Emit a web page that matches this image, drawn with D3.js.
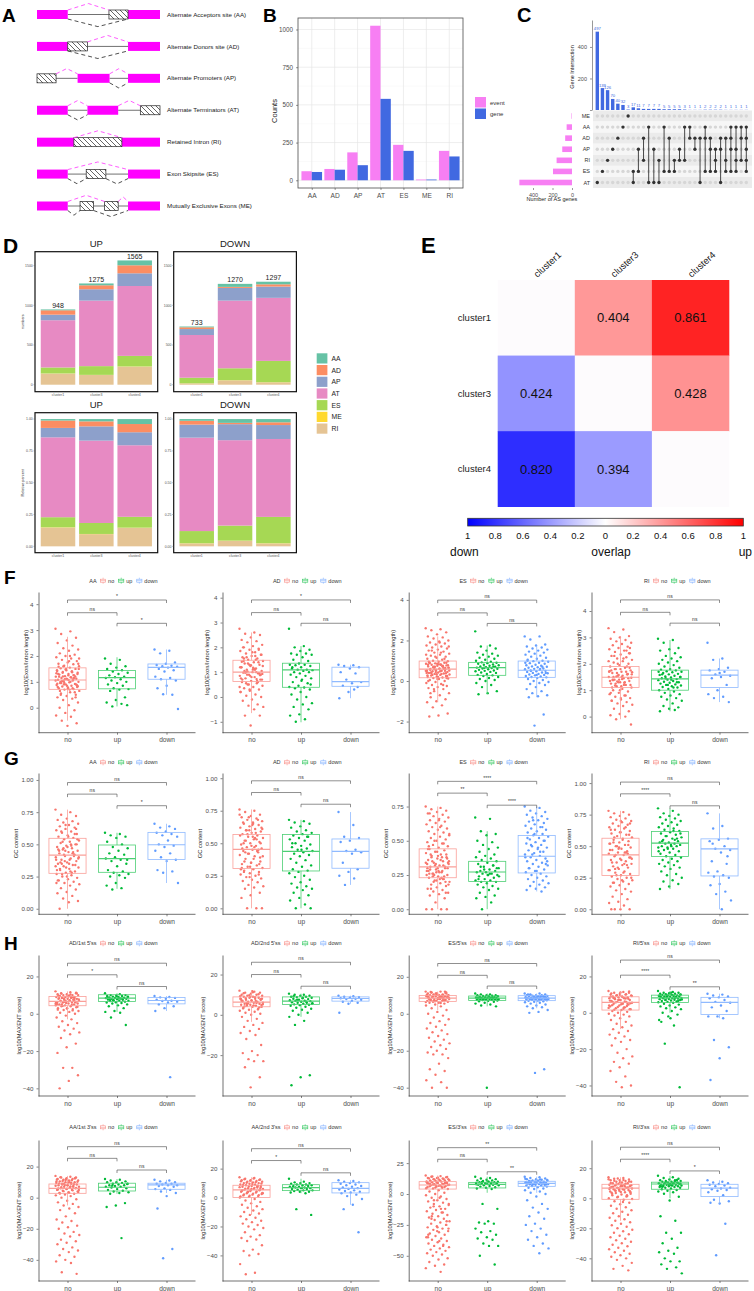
<!DOCTYPE html>
<html>
<head>
<meta charset="utf-8">
<script src="https://cdn.jsdelivr.net/npm/d3@7/dist/d3.min.js"></script>
<style>
  body { margin: 0; background: #fff; }
  svg { display: block; font-family: "Liberation Sans", Arial, Helvetica, sans-serif; }
</style>
</head>
<body>
<div id="fig"></div>
<script>
// ---------- data ----------
// A: splicing schematics (positions in 0-100 gene units)
const asLabels = ['Alternate Acceptors site (AA)', 'Alternate Donors site (AD)', 'Alternate Promoters (AP)',
  'Alternate Terminators (AT)', 'Retained Intron (RI)', 'Exon Skipsite (ES)', 'Mutually Exclusive Exons (ME)'];
const asExons = [[[0, 25], [74, 100]], [[0, 25], [74, 100]], [[33, 59], [74, 100]], [[0, 25], [41, 66]],
  [[0, 30], [69, 100]], [[0, 25], [74, 100]], [[0, 25], [74, 100]]];
const asAltParts = [[[58.5, 74]], [[25, 41]], [[0, 15.5]], [[84, 100]], [[30, 69]], [[40, 56]], [[35, 46], [55, 66]]];
const asIntrons = [[[25, 58.5]], [[41, 74]], [[15.5, 33], [59, 74]], [[25, 41], [66, 84]], [],
  [[25, 40], [56, 74]], [[25, 35], [46, 55], [66, 74]]];
const asUpperJoins = [[[25, 58.5]], [[41, 74]], [[15.5, 33], [59, 74]], [[25, 41], [66, 84]], [[30, 69]],
  [[25, 74]], [[25, 55], [66, 74]]];
const asLowerJoins = [[[25, 74]], [[25, 74]], [[59, 74]], [[25, 41]], [], [[25, 40], [56, 74]], [[25, 35], [46, 74]]];

// B: counts per AS type
const asTypes = ['AA', 'AD', 'AP', 'AT', 'ES', 'ME', 'RI'];
const eventCounts = [60, 75, 185, 1025, 235, 5, 195];
const geneCounts = [55, 70, 100, 540, 195, 5, 158];
const countTicks = [0, 250, 500, 750, 1000];

// C: upset intersections
const upsetSets = ['ME', 'AA', 'AD', 'AP', 'RI', 'ES', 'AT'];
const intersectionSets = [['AT'], ['ES'], ['RI'], ['AP'], ['AD'], ['AA'], ['ME'], ['ES', 'AT'], ['AP', 'ES'],
  ['AD', 'RI'], ['AA', 'AT'], ['AP', 'AT'], ['RI', 'AT'], ['AA', 'ES'], ['AD', 'ES'], ['RI', 'ES'], ['AP', 'RI'],
  ['AA', 'RI'], ['AA', 'AD'], ['AD', 'AP'], ['AD', 'AT'], ['AA', 'AD', 'ES'], ['AD', 'AP', 'ES'], ['AP', 'RI', 'ES'],
  ['AD', 'AP', 'AT'], ['AD', 'RI', 'ES'], ['AA', 'AD', 'AP', 'ES'], ['AA', 'AP', 'RI', 'ES'], ['AA', 'AD', 'RI'],
  ['AA', 'AD', 'AP', 'RI', 'ES']];
const intersectionCounts = [497, 139, 126, 70, 40, 32, 3, 17, 11, 7, 7, 7, 7, 5, 5, 5, 5, 3, 1, 1, 1, 2, 2, 2, 2, 1, 1, 1, 1, 1];

// D: AS events per cluster, values in asTypes order
const clusters = ['cluster1', 'cluster3', 'cluster4'];
const upCounts = [[11, 55, 70, 595, 75, 2, 140], [23, 50, 143, 825, 110, 2, 122], [61, 101, 160, 880, 133, 3, 227]];
const downCounts = [[10, 22, 75, 538, 70, 1, 17], [38, 13, 160, 852, 150, 2, 55], [33, 28, 142, 794, 268, 2, 30]];
const stackOrder = ['RI', 'ME', 'ES', 'AT', 'AP', 'AD', 'AA'];
const asColors = ['#66C2A5', '#FC8D62', '#8DA0CB', '#E78AC3', '#A6D854', '#FFD92F', '#E5C494'];

// E: overlap matrix (positive = up, negative = down)
const overlapMatrix = [[0, 0.404, 0.861], [-0.424, 0, 0.428], [-0.820, -0.394, 0]];
const overlapTicks = [-1, -0.8, -0.6, -0.4, -0.2, 0, 0.2, 0.4, 0.6, 0.8, 1];

// F-H: box plots; stats = [lower whisker, q1, median, q3, upper whisker] for no / up / down
const groups = ['no', 'up', 'down'];
const groupColors = ['#F8766D', '#00BA38', '#619CFF'];

const lengthTitles = ['AA', 'AD', 'ES', 'RI'];
const lengthStats = [
  [[-0.5, 0.71, 1.07, 1.54, 2.74], [0.05, 0.73, 1.16, 1.44, 1.95], [0.5, 1.1, 1.56, 1.69, 2.25]],
  [[-0.65, 0.62, 1.0, 1.48, 2.6], [-1.02, 0.39, 1.09, 1.36, 2.05], [-0.05, 0.43, 0.62, 1.2, 1.3]],
  [[-1.05, 0.16, 0.59, 0.985, 2.2], [-0.65, 0.28, 0.66, 0.92, 1.75], [-0.8, 0.18, 0.53, 0.985, 1.75]],
  [[-0.1, 1.1, 1.49, 1.9, 3.05], [0.2, 1.0, 1.43, 1.76, 2.9], [0.55, 1.1, 1.57, 1.76, 2.2]]
];
const lengthPoints = [
  ['3.05 2.95 2.85 2.7 2.6 2.5 2.4 2.3 2.25 2.2 2.1 2.05 2.0 1.95 1.9 1.85 1.8 1.75 1.7 1.68 1.62 1.6 1.55 1.52 1.5 1.45 1.42 1.4 1.38 1.35 1.3 1.28 1.25 1.22 1.2 1.18 1.15 1.12 1.1 1.08 1.05 1.02 1.0 0.98 0.95 0.92 0.9 0.88 0.85 0.82 0.8 0.78 0.75 0.72 0.7 0.65 0.6 0.55 0.5 0.45 0.4 0.35 0.3 0.2 0.1 0.0 -0.1 -0.2 -0.3 -0.35 -0.5 -0.6 -0.7 1.3 1.1 0.9 1.5 0.7 1.0 1.2 1.5 1.45 1.4 1.35 1.3 1.25 1.2 1.15 1.1 1.05 1.0 0.95 0.9 0.85 0.8 0.75 1.6 1.7 1.8 0.65 0.6 1.48 1.33 1.17 1.03 0.87 0.73 1.58 1.26 0.96 1.9 2.0 0.5 0.4 1.12 0.93 1.37 1.21 0.83 1.07',
   '1.9 1.85 1.7 1.6 1.55 1.5 1.45 1.4 1.35 1.3 1.25 1.2 1.18 1.15 1.1 1.05 1.0 0.95 0.9 0.85 0.75 0.72 0.7 0.65 0.4 0.3 0.2 0.15 0.05 0.1',
   '2.25 2.2 2.1 1.75 1.7 1.65 1.62 1.6 1.58 1.55 1.5 1.45 1.4 1.2 1.15 1.1 1.05 0.85 0.75 0.5 0.52 -0.05'],
  ['2.75 2.6 2.55 2.5 2.4 2.3 2.25 2.2 2.1 2.05 2.0 1.95 1.9 1.85 1.8 1.75 1.7 1.65 1.6 1.55 1.5 1.45 1.4 1.35 1.3 1.25 1.2 1.15 1.1 1.05 1.0 0.98 0.95 0.9 0.85 0.8 0.75 0.7 0.65 0.6 0.55 0.5 0.45 0.4 0.35 0.3 0.25 0.2 0.1 0.05 0.0 -0.1 -0.15 -0.3 -0.35 -0.4 -0.5 -0.75 -0.75 -1.15 1.2 1.0 0.9 0.7 1.1 1.45 1.4 1.3 1.2 1.1 1.0 0.9 0.8 0.7 0.65 1.35 1.25 1.15 1.05 0.95 0.85 0.75 1.5 1.6 1.7 1.8 2.0 0.6 0.5 0.4 1.12 0.98 0.88 1.28 1.42 0.72 1.03 0.93 1.18 1.55 1.9 0.3 0.2 1.65 0.55',
   '2.75 2.05 2.0 1.9 1.85 1.75 1.75 1.7 1.7 1.6 1.5 1.45 1.35 1.3 1.3 1.28 1.25 1.2 1.15 1.1 1.1 1.08 1.05 1.0 1.0 0.95 0.9 0.85 0.8 0.75 0.7 0.6 0.55 0.45 0.4 0.38 0.35 0.3 0.2 0.1 0.0 -0.1 -0.25 -0.3 -0.4 -0.5 -0.7 -0.75 -0.9 -1.0 0.5 0.65 1.2',
   '1.3 1.28 1.25 1.2 1.15 1.0 0.95 0.7 0.6 0.55 0.45 0.4 0.2 -0.05 0.3'],
  ['2.6 2.55 2.5 2.4 2.3 2.2 2.15 2.1 2.0 1.95 1.9 1.85 1.8 1.75 1.7 1.65 1.6 1.55 1.5 1.45 1.4 1.35 1.3 1.25 1.2 1.15 1.1 1.05 1.0 0.98 0.95 0.92 0.9 0.87 0.85 0.82 0.8 0.77 0.75 0.72 0.7 0.67 0.65 0.62 0.6 0.58 0.55 0.52 0.5 0.48 0.45 0.42 0.4 0.37 0.35 0.32 0.3 0.27 0.25 0.22 0.2 0.17 0.15 0.12 0.1 0.05 0.0 -0.05 -0.1 -0.15 -0.2 -0.25 -0.3 -0.35 -0.4 -0.5 -0.6 -0.7 -0.8 -0.9 -1.0 -1.05 -1.2 -1.3 -1.6 -1.7 -1.75 0.6 0.7 0.5 0.8 0.4 0.9 0.85 0.8 0.75 0.7 0.65 0.6 0.55 0.5 0.45 0.4 0.35 0.3 0.25 0.2 0.95 0.62 0.58 0.52 0.48 0.42 0.38 0.33 0.28 0.73 0.68 0.78 0.83 0.88 1.1 1.2 1.3 1.4 1.5 0.15 0.1 0.0 -0.2 -0.4 1.7 1.9 -0.6 0.64 0.54 0.44',
   '2.45 1.75 1.7 1.6 1.5 1.4 1.35 1.3 1.25 1.2 1.15 1.1 1.05 1.0 0.95 0.92 0.9 0.88 0.85 0.82 0.8 0.78 0.75 0.72 0.7 0.68 0.66 0.64 0.62 0.6 0.58 0.55 0.52 0.5 0.48 0.45 0.42 0.4 0.35 0.3 0.28 0.25 0.2 0.15 0.1 0.05 0.0 -0.1 -0.2 -0.3 -0.5 -0.6 -0.65 0.7 0.65',
   '2.2 2.2 2.05 1.8 1.75 1.7 1.65 1.6 1.55 1.5 1.45 1.4 1.35 1.3 1.25 1.2 1.15 1.1 1.05 1.0 0.98 0.95 0.9 0.88 0.85 0.8 0.78 0.75 0.72 0.7 0.68 0.65 0.62 0.6 0.58 0.55 0.52 0.5 0.48 0.45 0.42 0.4 0.38 0.35 0.32 0.3 0.28 0.25 0.22 0.2 0.18 0.15 0.1 0.05 0.0 -0.05 -0.1 -0.15 -0.2 -0.3 -0.4 -0.5 -0.6 -0.7 -0.75 -0.8 -1.65 -2.2 0.9 0.6 0.5 0.4 0.3 1.0 0.7'],
  ['3.35 3.3 3.2 3.05 3.0 2.95 2.9 2.85 2.8 2.75 2.7 2.65 2.6 2.55 2.5 2.45 2.4 2.35 2.3 2.25 2.2 2.15 2.1 2.05 2.0 1.95 1.9 1.85 1.8 1.75 1.7 1.65 1.6 1.55 1.5 1.45 1.4 1.35 1.3 1.25 1.2 1.15 1.1 1.05 1.0 0.95 0.9 0.85 0.8 0.75 0.7 0.65 0.6 0.55 0.5 0.45 0.4 0.3 0.2 0.1 0.05 0.0 -0.1 -0.3 1.5 1.4 1.6 1.3 1.7 1.2 1.8 1.85 1.8 1.75 1.7 1.65 1.6 1.55 1.5 1.45 1.4 1.35 1.3 1.25 1.2 1.15 1.1 1.9 2.0 2.1 2.2 2.3 2.4 1.0 0.9 0.8 1.52 1.47 1.42 1.38 1.62 1.58 1.72 1.28 1.18 2.6 0.7 0.6 2.5 1.33 1.68',
   '2.95 2.9 2.8 2.6 2.55 2.5 2.4 2.3 2.25 2.2 2.15 2.1 2.05 2.0 1.95 1.9 1.85 1.8 1.78 1.75 1.72 1.7 1.68 1.65 1.62 1.6 1.58 1.55 1.52 1.5 1.48 1.45 1.42 1.4 1.38 1.35 1.32 1.3 1.28 1.25 1.22 1.2 1.18 1.15 1.12 1.1 1.05 1.0 0.95 0.9 0.85 0.8 0.75 0.7 0.65 0.6 0.5 0.4 0.35 0.3 0.2 0.25 1.45 1.5 1.4 1.6 1.3 1.2 1.7 1.1',
   '2.8 2.2 2.15 1.85 1.8 1.75 1.7 1.6 1.55 1.5 1.45 1.2 1.0 0.85 0.75 0.7 0.55 1.65']
];
const lengthSig = [['*', 'ns', '*'], ['*', 'ns', 'ns'], ['ns', 'ns', 'ns'], ['ns', 'ns', 'ns']];
const lengthSigAt = [[4.16, 3.67, 3.26], [3.91, 3.4, 2.97], [3.99, 3.36, 2.84], [4.42, 3.95, 3.54]];

const gcTitles = ['AA', 'AD', 'ES', 'RI'];
const gcStats = [
  [[0.0, 0.275, 0.417, 0.547, 0.77], [0.155, 0.283, 0.39, 0.495, 0.59], [0.2, 0.383, 0.497, 0.593, 0.66]],
  [[0.0, 0.306, 0.453, 0.567, 0.76], [0.0, 0.287, 0.437, 0.567, 0.68], [0.18, 0.308, 0.437, 0.533, 0.74]],
  [[0.0, 0.23, 0.309, 0.441, 0.75], [0.0, 0.203, 0.272, 0.35, 0.57], [0.13, 0.265, 0.387, 0.539, 0.75]],
  [[0.0, 0.267, 0.431, 0.563, 0.78], [0.16, 0.418, 0.524, 0.616, 0.8], [0.0, 0.264, 0.479, 0.558, 0.76]]
];
const gcPoints = [
  ['0.77 0.75 0.73 0.72 0.7 0.69 0.68 0.67 0.66 0.65 0.64 0.63 0.62 0.61 0.6 0.59 0.58 0.57 0.56 0.55 0.54 0.53 0.52 0.51 0.5 0.49 0.48 0.47 0.46 0.45 0.44 0.43 0.42 0.41 0.4 0.39 0.38 0.37 0.36 0.35 0.34 0.33 0.32 0.31 0.3 0.29 0.28 0.27 0.26 0.25 0.24 0.23 0.22 0.21 0.2 0.19 0.18 0.16 0.15 0.13 0.12 0.1 0.08 0.06 0.05 0.0 0.42 0.45 0.38 0.5 0.35 0.5 0.48 0.46 0.44 0.42 0.4 0.38 0.36 0.34 0.32 0.3 0.28 0.52 0.54 0.56 0.45 0.41 0.37 0.33 0.29 0.6 0.62 0.25 0.22 0.43 0.47 0.39 0.35 0.31 0.58 0.65 0.2 0.49 0.27',
   '0.59 0.58 0.57 0.56 0.55 0.52 0.5 0.48 0.47 0.45 0.43 0.42 0.4 0.39 0.38 0.37 0.35 0.33 0.3 0.29 0.28 0.27 0.26 0.25 0.24 0.2 0.18 0.16 0.15 0.38',
   '0.66 0.64 0.63 0.62 0.6 0.59 0.58 0.57 0.56 0.53 0.5 0.49 0.48 0.45 0.43 0.4 0.38 0.37 0.3 0.29 0.28 0.2'],
  ['0.76 0.75 0.74 0.72 0.71 0.7 0.69 0.68 0.67 0.66 0.65 0.64 0.63 0.62 0.61 0.6 0.59 0.58 0.57 0.56 0.55 0.54 0.53 0.52 0.51 0.5 0.49 0.48 0.47 0.46 0.45 0.44 0.43 0.42 0.41 0.4 0.38 0.36 0.35 0.34 0.33 0.32 0.31 0.3 0.29 0.28 0.27 0.26 0.25 0.24 0.23 0.22 0.21 0.2 0.18 0.17 0.16 0.15 0.12 0.1 0.08 0.0 0.0 0.0 0.55 0.5 0.45 0.6 0.56 0.54 0.52 0.5 0.48 0.46 0.44 0.42 0.4 0.38 0.36 0.34 0.32 0.3 0.58 0.6 0.62 0.64 0.66 0.68 0.7 0.72 0.47 0.43 0.39 0.35 0.31 0.53 0.57 0.61 0.65 0.28 0.26 0.24',
   '0.68 0.67 0.66 0.65 0.63 0.62 0.6 0.59 0.58 0.57 0.56 0.55 0.54 0.53 0.52 0.5 0.49 0.48 0.47 0.46 0.45 0.44 0.43 0.42 0.41 0.4 0.38 0.37 0.35 0.33 0.32 0.3 0.29 0.28 0.27 0.25 0.24 0.22 0.2 0.19 0.17 0.16 0.15 0.14 0.12 0.1 0.08 0.06 0.03 0.0 0.0 0.45 0.5 0.55',
   '0.74 0.64 0.55 0.54 0.52 0.51 0.45 0.44 0.43 0.42 0.35 0.3 0.28 0.25 0.23 0.18'],
  ['0.75 0.74 0.73 0.72 0.71 0.7 0.69 0.68 0.67 0.66 0.65 0.64 0.63 0.62 0.61 0.6 0.59 0.58 0.57 0.56 0.55 0.54 0.53 0.52 0.51 0.5 0.49 0.48 0.47 0.46 0.45 0.44 0.43 0.42 0.41 0.4 0.39 0.38 0.37 0.36 0.35 0.34 0.33 0.32 0.31 0.3 0.29 0.28 0.27 0.26 0.25 0.24 0.23 0.22 0.21 0.2 0.19 0.18 0.17 0.16 0.15 0.14 0.13 0.12 0.11 0.1 0.08 0.05 0.0 0.0 0.0 0.0 0.3 0.28 0.32 0.25 0.35 0.22 0.4 0.2 0.27 0.33 0.38 0.24 0.3 0.28 0.26 0.24 0.32 0.34 0.36 0.38 0.4 0.42 0.44 0.22 0.2 0.18 0.27 0.29 0.31 0.33 0.25 0.23 0.35 0.37 0.39 0.46 0.48 0.5 0.55 0.6 0.15 0.12 0.21 0.3 0.28 0.26 0.34 0.65 0.7',
   '0.67 0.66 0.57 0.55 0.54 0.5 0.49 0.47 0.45 0.44 0.42 0.4 0.39 0.38 0.37 0.36 0.35 0.34 0.33 0.32 0.31 0.3 0.29 0.28 0.28 0.27 0.27 0.26 0.26 0.25 0.25 0.24 0.23 0.22 0.21 0.21 0.2 0.2 0.19 0.18 0.17 0.16 0.15 0.14 0.12 0.1 0.09 0.08 0.05 0.0 0.3 0.25 0.22 0.32 0.29 0.24 0.26 0.31',
   '0.75 0.74 0.72 0.71 0.7 0.69 0.68 0.67 0.66 0.65 0.64 0.63 0.62 0.61 0.6 0.59 0.58 0.57 0.56 0.55 0.54 0.53 0.52 0.51 0.5 0.49 0.48 0.47 0.46 0.45 0.44 0.43 0.42 0.41 0.4 0.39 0.38 0.37 0.36 0.35 0.34 0.33 0.32 0.31 0.3 0.29 0.28 0.27 0.26 0.25 0.24 0.23 0.22 0.21 0.2 0.19 0.18 0.17 0.16 0.15 0.14 0.13 0.4 0.35 0.45 0.3 0.5 0.55 0.38 0.42 0.47 0.33 0.28 0.52 0.6 0.65'],
  ['0.78 0.77 0.76 0.75 0.74 0.73 0.72 0.71 0.7 0.69 0.68 0.67 0.66 0.65 0.64 0.63 0.62 0.61 0.6 0.59 0.58 0.57 0.56 0.55 0.54 0.53 0.52 0.51 0.5 0.49 0.48 0.47 0.46 0.45 0.44 0.43 0.42 0.41 0.4 0.39 0.38 0.37 0.36 0.35 0.34 0.33 0.32 0.31 0.3 0.29 0.28 0.27 0.26 0.25 0.24 0.23 0.22 0.21 0.2 0.19 0.18 0.16 0.15 0.14 0.12 0.1 0.08 0.06 0.05 0.03 0.0 0.0 0.0 0.0 0.45 0.5 0.4 0.55 0.53 0.51 0.49 0.47 0.45 0.43 0.41 0.39 0.37 0.35 0.33 0.31 0.29 0.57 0.59 0.61 0.63 0.65 0.27 0.25 0.23 0.21 0.44 0.48 0.52 0.36 0.32 0.68 0.7',
   '0.8 0.78 0.76 0.75 0.74 0.73 0.72 0.71 0.7 0.69 0.68 0.67 0.66 0.65 0.64 0.63 0.62 0.61 0.6 0.59 0.58 0.57 0.56 0.55 0.54 0.53 0.53 0.52 0.52 0.51 0.51 0.5 0.5 0.49 0.49 0.48 0.47 0.46 0.45 0.44 0.43 0.42 0.41 0.4 0.39 0.38 0.37 0.36 0.35 0.34 0.33 0.32 0.3 0.28 0.27 0.25 0.23 0.22 0.2 0.18 0.16 0.55 0.58 0.6 0.5 0.54 0.56 0.48 0.46 0.62',
   '0.76 0.66 0.64 0.56 0.55 0.54 0.5 0.48 0.47 0.45 0.38 0.36 0.3 0.29 0.27 0.26 0.25 0.2 0.19 0.14 0.12 0.07 0.0 0.52 0.42']
];
const gcSig = [['ns', 'ns', '*'], ['ns', 'ns', 'ns'], ['****', '**', '****'], ['ns', '****', 'ns']];
const gcSigAt = [[0.98, 0.89, 0.8], [0.98, 0.89, 0.8], [0.934, 0.848, 0.76], [1.008, 0.915, 0.82]];

const maxentTitles = ["AD/1st 5'ss", "AD/2nd 5'ss", "ES/5'ss", "RI/5'ss", "AA/1st 3'ss", "AA/2nd 3'ss", "ES/3'ss", "RI/3'ss"];
const maxentStats = [
  [[-3, 4.3, 6.6, 9.3, 12], [1, 6.6, 8.4, 10.2, 11], [1.5, 5.3, 7.1, 8.7, 9.5]],
  [[-3.5, 4.0, 6.3, 8.9, 12], [-1, 5.1, 6.8, 8.9, 10.5], [5.5, 6.8, 8.1, 8.9, 9.5]],
  [[2, 6.7, 8.5, 9.9, 12], [4, 7.2, 8.5, 9.6, 11], [3, 7.1, 8.5, 9.8, 11]],
  [[-9, 1.5, 5.7, 8.8, 12], [0, 5.7, 8.2, 9.7, 12], [-3, -0.9, 5.7, 8.5, 10.5]],
  [[-5, 2.8, 6.0, 8.8, 14], [2.5, 4.3, 6.7, 9.3, 12], [3, 5.4, 8.2, 9.3, 11.5]],
  [[-12, 0, 5.3, 8.5, 14], [3, 4.8, 6.8, 8.9, 13], [-5, 3.2, 6.4, 10.3, 12]],
  [[-5, 4.0, 7.3, 10.0, 15], [1, 4.9, 7.8, 9.4, 14], [1, 6.2, 8.6, 10.3, 14]],
  [[-15, -0.7, 6.7, 9.3, 14], [0, 6.0, 9.5, 10.7, 15], [-3.5, 1.1, 6.7, 9.3, 12]]
];
const maxentPoints = [
  ['12 11.5 11 11 10.5 10.5 10 10 10 9.5 9.5 9 9 9 8.5 8.5 8 8 8 7.5 7.5 7 7 7 6.5 6.5 6 6 6 5.5 5.5 5 5 4.5 4.5 4 4 3.5 3 3 2.5 2 1.5 1 0.5 0 -1 -2 -3 -4 -5 -6 -7 -8 -9 -10 -11 -13 -16 -18 -21 -29 -29 -33 -36 -40 8 7 6 9 5 11 10 9.7 8.8 8.2 7.7 7.2 6.7 6.2 5.7 5.2 4.7 4.2 3.7 9.2 8.4 7.4 6.4 5.4 10.3 10.8 11.3 2.8 2.2 1.8',
   '11 10.5 10 10 9.8 9.5 9.5 9.2 9 9 8.8 8.6 8.5 8.4 8.2 8 8 7.8 7.6 7.5 7.2 7 7 6.8 6.5 6.2 6 5.8 5.5 5 4.5 4 3 1.5 1 0.5 -2 -6 9.3 8.7 8.1 7.3 9.1 8.3 7.7',
   '9.5 9 8.8 8.5 8 7.5 7 6.8 6.5 6 5 4 3 1.5 -34'],
  ['12 11.5 11 11 10.5 10 10 9.5 9.5 9 9 8.5 8.5 8 8 7.5 7.5 7 7 6.5 6.5 6 6 5.5 5.5 5 5 4.5 4.5 4 4 3.5 3 2.5 2 1.5 1 0.5 0 -1 -2 -3 -4 -5 -6 -7 -8 -9 -10 -12 -15 -18 -19 -20 -22 -23 -23 -26 -31 -36 7 6 5 8 11.2 10.7 10.2 9.7 9.2 8.7 8.2 7.7 7.2 6.7 6.2 5.7 5.2 4.7 4.2 3.7 8.9 7.9 6.9 5.9 4.9 11.7 3.2 2.7',
   '10.5 10 10 9.5 9.5 9 9 8.8 8.5 8.2 8 7.8 7.5 7.2 7 7 6.8 6.5 6.2 6 6 5.8 5.5 5.2 5 4.8 4.5 4 3.5 3 2.5 2 1 0 -1 -3 -5 -30 -31 -35 6.5 7.5 5.5 8.5 9.2',
   '9.5 9.2 9 8.8 8.5 8.2 8 7.8 7.5 7 6.5 6 5.5 1'],
  ['12 12 11.5 11.5 11 11 10.5 10.5 10 10 10 9.5 9.5 9.5 9 9 9 8.5 8.5 8.5 8 8 8 7.5 7.5 7 7 7 6.5 6.5 6 6 5.5 5 4.5 4 3 2 1 0 -1 -2 -3 -4 -5 -6 -7 -8 -9 -10 -11 -12 -13 -14 -15 -16 -17 -18 -19 -20 -21 -22 -22 -24 -27 -30 -31 -33 -36 -37 -40 -40 8 9 10 7 8.5 9.5 11.8 11.3 10.8 10.3 9.8 9.3 8.8 8.3 7.8 7.3 6.8 6.3 5.8 11.6 10.9 10.1 9.1 8.1 7.1 9.9 8.7 7.7 12 11 10 9',
   '11 10.5 10.5 10 10 10 9.8 9.6 9.5 9.4 9.2 9 9 8.8 8.7 8.6 8.5 8.4 8.3 8.2 8.1 8 8 7.9 7.8 7.7 7.6 7.5 7.4 7.2 7 6.8 6.5 6 5.5 5 4.5 4 -40 8.5 9 8 7.5 9.3 8.9',
   '11 11 10.5 10.5 10 10 10 9.8 9.6 9.5 9.4 9.2 9 9 8.8 8.7 8.6 8.5 8.4 8.3 8.2 8.1 8 8 7.9 7.8 7.7 7.6 7.5 7.3 7.1 7 6.8 6.5 6.2 6 5.5 5 4.5 4 3.5 3 2 1 0.5 -30 -32 8.5 9.5 8 7.5 9 10.5 9.7 8.9 8.1 7.4 10.2 9.1 8.3'],
  ['12 11.5 11 11 10.5 10 10 9.5 9.5 9 9 8.5 8.5 8 8 7.5 7 7 6.5 6 6 5.5 5 5 4.5 4 3.5 3 2.5 2 1.5 1 0.5 0 -0.5 -1 -1.5 -2 -3 -4 -5 -6 -7 -8 -9 -10 -11 -12 -13 -14 -15 -16 -18 -20 -22 -24 -25 -27 -28 -30 -32 -35 -38 -40 -41 6 5 7 4 3 8 2 11.2 10.7 10.2 9.7 9.2 8.7 8.2 7.7 7.2 6.7 6.2 5.7 5.2 4.7 4.2 3.7 3.2 2.7 2.2 1.7 11.7 9.9 8.9 7.9',
   '12 11.5 11 11 10.8 10.5 10.5 10.2 10 10 9.8 9.6 9.5 9.4 9.2 9 9 8.8 8.6 8.5 8.4 8.2 8 8 7.8 7.6 7.5 7.2 7 7 6.8 6.5 6.2 6 5.8 5.5 5 4.5 4 3.5 3 2.5 2 1 0 -1 -2 -4 -7 -17 -41 -3 -5 8.7 9.3 7.3 9.7 8.3 6.6 10.7 9.1 8.1 7.1 10.1 11.1',
   '10.5 10 9.5 9 8.5 8 7 6 5.5 4 3 1 -2 -2 -3 -15 -19 -25 -37'],
  ['14 13.5 13 13 12.5 12 12 11.5 11 11 10.5 10 10 9.5 9 9 8.5 8 8 7.5 7 7 6.5 6 6 5.5 5 5 4.5 4 3.5 3 2.5 2 1.5 1 0 -1 -2 -3 -4 -5 -6 -7 -8 -10 -12 -14 -15 -16 -18 -19 -20 -22 -23 -24 -25 -27 -28 -29 -30 -32 -33 -34 -35 -37 -38 -40 -41 -42 -48 -49 8 6 7 9 5 10 13.2 12.7 12.2 11.7 11.2 10.7 10.2 9.7 9.2 8.7 8.2 7.7 7.2 6.7 6.2 5.7 5.2 4.7 4.2 3.7 3.2 2.7 12.4 11.4 10.4 9.4 8.4',
   '12 11.5 11 10.5 10 10 9.5 9 9 8.5 8 8 7.5 7 7 6.5 6 5.5 5 4.5 4 3.5 3 2.5 -3.5 -5 -6 -26 7.8 8.8',
   '11.5 11 10.5 10 9.5 9 9 8.5 8 8 7.5 7 6 5.5 5 4 3 1 -7 -33 -39'],
  ['14 13.5 13 12.5 12 12 11.5 11 11 10.5 10 10 9.5 9 9 8.5 8 8 7.5 7 6.5 6 6 5.5 5 4.5 4 3.5 3 2.5 2 1.5 1 0.5 0 -1 -2 -3 -4 -5 -6 -7 -8 -9 -10 -11 -12 -13 -14 -15 -16 -17 -18 -19 -20 -21 -22 -24 -26 -27 -28 -29 -30 -33 -36 -37 -39 -40 -46 -52 -53 7 6 5 8 4 3 13.2 12.7 12.2 11.7 11.2 10.7 10.2 9.7 9.2 8.7 8.2 7.7 7.2 6.7 6.2 5.7 5.2 4.7 4.2 3.7 3.2 2.7 2.2 1.7 1.2 0.7',
   '13 11 10.5 10 10 9.5 9 9 8.5 8.5 8 8 7.5 7.5 7 7 6.5 6.5 6 6 5.5 5 5 4.5 4 4 3.5 3 -8 -12 6.8 7.2',
   '12 11.5 11 10.5 10 9.5 9 8.5 8 7.5 7 6.5 6 5.5 5 4.5 4 3.5 3 2 1 -1 -5 -8 -24'],
  ['15 14.5 14 13.5 13 13 12.5 12 12 11.5 11 11 10.5 10 10 9.5 9 9 8.5 8 8 7.5 7 7 6.5 6 5.5 5 4.5 4 3 2 1 0 -1 -2 -3 -4 -5 -6 -7 -8 -9 -10 -11 -12 -13 -14 -15 -16 -17 -18 -19 -20 -21 -22 -23 -24 -25 -26 -27 -28 -29 -30 -31 -32 -33 -34 -35 -36 -37 -38 -39 -40 -41 -42 -43 -44 -45 -46 -47 -48 -49 -50 -52 -53 -55 -57 -58 -60 -63 -20 -25 -30 -35 -15 -10 -28 -38 8 9 7 10 6 14.2 13.7 13.2 12.7 12.2 11.7 11.2 10.7 10.2 9.7 9.2 8.7 8.2 7.7 7.2 6.7 6.2 5.7 5.2 4.7 -12 -18 -22 -27 -33 -42 -5 -8 -3',
   '14 13 12.5 12 11.5 11 11 10.5 10 10 9.5 9.5 9 9 8.5 8.5 8 8 7.5 7.5 7 7 6.5 6 5.5 5 4.5 4 -8 -12 -22 -23 -24 -24 -28 -30 -31 -33 -35 -36 -37 -40 -42 -42 -50 -57 8.2 7.8 9.2 9.7 8.7 10.2',
   '14 13.5 13 12.5 12 12 11.5 11 11 10.5 10.5 10 10 9.5 9.5 9 9 8.8 8.5 8.5 8.2 8 8 7.8 7.5 7.5 7 7 6.5 6 5.5 5 4.5 4 3 2 1 0 -2 -5 -8 -11 -12 -15 -18 -20 -24 -25 -28 -30 -33 -35 -37 -40 -42 -44 -48 9 8 10 9.3 8.7 7.3 11.3 10.7 9.8 8.9 8.3 12.3 11.8 10.2 7.9'],
  ['14 13.5 13 12.5 12 12 11.5 11 11 10.5 10 10 9.5 9 9 8.5 8 8 7.5 7 7 6.5 6 6 5.5 5 4.5 4 3.5 3 2.5 2 1.5 1 0 -1 -2 -3 -4 -5 -6 -7 -8 -9 -10 -11 -12 -13 -14 -15 -16 -17 -18 -19 -20 -21 -22 -23 -24 -25 -26 -27 -28 -29 -30 -31 -32 -33 -34 -35 -36 -37 -38 -39 -40 -41 -43 -45 -47 -48 6 7 8 5 4 9 3 2 13.2 12.7 12.2 11.7 11.2 10.7 10.2 9.7 9.2 8.7 8.2 7.7 7.2 6.7 6.2 5.7 5.2 4.7 4.2 3.7 1.2 0.7 -0.5 -2.5',
   '15 14 13.5 13 12.5 12 12 11.5 11.5 11 11 10.5 10.5 10 10 10 9.5 9.5 9 9 9 8.5 8.5 8 8 8 7.5 7.5 7 7 6.5 6 5.5 5 4.5 4 3 1 -1.5 -12 -15 -23 -23 -27 -30 -33 -35 -36 -37 -40 -42 -42 -44 -46 -47 -50 9.8 8.8 10.2 9.2 8.2 11.2 10.7 9.7 8.7 7.7 12.2',
   '12 11 10.5 10 9.5 9 8.5 8 7 6.5 6 5.5 5 4 2 -1 -2 -3.5 -3 -17 -38']
];
const maxentSig = [['ns', '*', 'ns'], ['ns', 'ns', 'ns'], ['ns', 'ns', 'ns'], ['ns', '****', '**'],
  ['ns', 'ns', 'ns'], ['ns', '*', 'ns'], ['**', 'ns', '**'], ['ns', '****', '*']];
const maxentSigAt = [[27.1, 20.9, 14.6], [26.1, 20, 14.2], [27.2, 20.8, 15], [29, 20.7, 14.3],
  [32.8, 25.3, 17.8], [33.8, 25.6, 17.1], [37.5, 28.1, 18], [34, 26, 18.2]];

// ---------- layout ----------
const W = 754, H = 1291;
const svg = d3.select('#fig').append('svg').attr('width', W).attr('height', H);
const defs = svg.append('defs');
const axisColor = '#333';
const tickText = '#4d4d4d';

function panelLetter(t, x, y, size) {
    svg.append('text').attr('x', x).attr('y', y)
        .attr('font-size', size + 'px').attr('font-weight', '700').attr('fill', '#000').text(t);
}

// ---------- A ----------
function drawPanelA() {
    panelLetter('A', 2, 22, 19);
    defs.append('pattern').attr('id', 'hatch').attr('patternUnits', 'userSpaceOnUse')
        .attr('width', 5).attr('height', 5)
        .append('path').attr('d', 'M-1,-1 L6,6 M-1,4 L1,6 M4,-1 L6,1')
        .attr('stroke', '#222').attr('stroke-width', 0.7);

    const x = d3.scaleLinear().domain([0, 100]).range([37, 160]);
    const y = d3.scalePoint().domain(asLabels).range([14.5, 206]);
    const half = 4.5;
    const g = svg.append('g');

    const join = (seg, yc, dir, color) => {
        const x1 = x(seg[0]), x2 = x(seg[1]);
        const peak = Math.min(8, 4 + (x2 - x1) * 0.06);
        const yb = yc + dir * half;
        g.append('path')
            .attr('d', `M${x1},${yb} L${(x1 + x2) / 2},${yb + dir * peak} L${x2},${yb}`)
            .attr('fill', 'none').attr('stroke', color).attr('stroke-width', 0.8)
            .attr('stroke-dasharray', '4,3');
    };

    asLabels.forEach((label, i) => {
        const yc = y(label);
        asIntrons[i].forEach(s => {
            g.append('line').attr('x1', x(s[0])).attr('x2', x(s[1])).attr('y1', yc).attr('y2', yc)
                .attr('stroke', '#333').attr('stroke-width', 0.7);
        });
        asExons[i].forEach(s => {
            g.append('rect').attr('x', x(s[0])).attr('y', yc - half).attr('width', x(s[1]) - x(s[0]))
                .attr('height', half * 2).attr('fill', '#ff00ff');
        });
        asAltParts[i].forEach(s => {
            g.append('rect').attr('x', x(s[0])).attr('y', yc - half).attr('width', x(s[1]) - x(s[0]))
                .attr('height', half * 2).attr('fill', '#fff');
            g.append('rect').attr('x', x(s[0])).attr('y', yc - half).attr('width', x(s[1]) - x(s[0]))
                .attr('height', half * 2).attr('fill', 'url(#hatch)').attr('stroke', '#222').attr('stroke-width', 0.7);
        });
        asUpperJoins[i].forEach(s => join(s, yc, -1, '#ff33ff'));
        asLowerJoins[i].forEach(s => join(s, yc, 1, '#222'));
        g.append('text').attr('x', 167).attr('y', yc + 2.1).attr('font-size', '6.2px').attr('fill', '#222').text(label);
    });
}

// ---------- B ----------
function drawPanelB() {
    panelLetter('B', 263, 22, 19);
    const left = 298, right = 463, top = 18, bottom = 188;
    const x = d3.scalePoint().domain(asTypes).range([left, right]).padding(0.6);
    const y = d3.scaleLinear().domain([-51.25, 1076.25]).range([bottom, top]);
    const step = x.step();
    const g = svg.append('g');

    g.append('rect').attr('x', left).attr('y', top).attr('width', right - left).attr('height', bottom - top).attr('fill', '#fff');
    const minor = countTicks.map(v => v + 125).filter(v => y(v) > top);
    minor.forEach(v => g.append('line').attr('x1', left).attr('x2', right).attr('y1', y(v)).attr('y2', y(v))
        .attr('stroke', '#f2f2f2').attr('stroke-width', 0.4));
    countTicks.forEach(v => g.append('line').attr('x1', left).attr('x2', right).attr('y1', y(v)).attr('y2', y(v))
        .attr('stroke', '#e6e6e6').attr('stroke-width', 0.7));
    asTypes.forEach(t => g.append('line').attr('x1', x(t)).attr('x2', x(t)).attr('y1', top).attr('y2', bottom)
        .attr('stroke', '#e6e6e6').attr('stroke-width', 0.7));

    const bw = step * 0.45;
    asTypes.forEach((t, i) => {
        g.append('rect').attr('x', x(t) - bw).attr('width', bw)
            .attr('y', y(eventCounts[i])).attr('height', y(0) - y(eventCounts[i])).attr('fill', '#f77ff3');
        g.append('rect').attr('x', x(t)).attr('width', bw)
            .attr('y', y(geneCounts[i])).attr('height', y(0) - y(geneCounts[i])).attr('fill', '#4169e1');
    });
    g.append('rect').attr('x', left).attr('y', top).attr('width', right - left).attr('height', bottom - top)
        .attr('fill', 'none').attr('stroke', '#4d4d4d').attr('stroke-width', 0.8);

    const ya = g.append('g').attr('transform', `translate(${left},0)`)
        .call(d3.axisLeft(y).tickValues(countTicks).tickFormat(d3.format('d')).tickSize(2).tickSizeOuter(0));
    const xa = g.append('g').attr('transform', `translate(0,${bottom})`)
        .call(d3.axisBottom(x).tickSize(2).tickSizeOuter(0));
    [ya, xa].forEach(a => {
        a.select('.domain').remove();
        a.selectAll('line').attr('stroke', axisColor).attr('stroke-width', 0.5);
        a.selectAll('text').attr('fill', tickText).attr('font-size', '6.3px').attr('font-family', null);
    });
    xa.selectAll('text').attr('font-size', '6.6px');

    g.append('text').attr('transform', `translate(277,${(top + bottom) / 2 + 8}) rotate(-90)`)
        .attr('text-anchor', 'middle').attr('font-size', '7.5px').attr('fill', '#222').text('Counts');

    // legend
    [['event', '#f77ff3'], ['gene', '#4169e1']].forEach((d, i) => {
        g.append('rect').attr('x', 475).attr('y', 97 + i * 11.5).attr('width', 11).attr('height', 10.5).attr('fill', d[1]);
        g.append('text').attr('x', 490).attr('y', 104.8 + i * 11.5).attr('font-size', '6px').attr('fill', '#333').text(d[0]);
    });
}

// ---------- C ----------
function drawPanelC() {
    panelLetter('C', 517, 22, 20);
    const g = svg.append('g');
    const colX = d3.scalePoint().domain(d3.range(intersectionCounts.length)).range([597.3, 746.3]);
    const rowY = d3.scalePoint().domain(upsetSets).range([116, 182.5]);
    const barY = d3.scaleLinear().domain([0, 571]).range([110, 20]);
    const setX = d3.scaleLinear().domain([0, 400]).range([572, 533]);
    const setSize = name => geneCounts[asTypes.indexOf(name)];

    upsetSets.forEach((s, i) => {
        g.append('rect').attr('x', 593).attr('y', rowY(s) - 5.5).attr('width', 159).attr('height', 11)
            .attr('fill', i % 2 === 0 ? '#ebebeb' : '#f6f6f6');
    });

    intersectionCounts.forEach((c, i) => {
        g.append('rect').attr('x', colX(i) - 1.7).attr('width', 3.4)
            .attr('y', barY(c)).attr('height', barY(0) - barY(c)).attr('fill', '#4169e1');
        g.append('text').attr('x', colX(i)).attr('y', barY(c) - 1.5).attr('text-anchor', 'middle')
            .attr('font-size', '4.2px').attr('fill', '#4169e1').text(c);
    });
    const ia = g.append('g').attr('transform', 'translate(592,0)')
        .call(d3.axisLeft(barY).tickValues([0, 200, 400]).tickSize(2).tickSizeOuter(0));
    ia.select('.domain').attr('stroke', axisColor).attr('stroke-width', 0.5);
    ia.selectAll('line').attr('stroke', axisColor).attr('stroke-width', 0.5);
    ia.selectAll('text').attr('fill', tickText).attr('font-size', '5.5px').attr('font-family', null);
    ia.selectAll('.tick').filter(d => d === 0).select('text').remove();
    g.append('text').attr('transform', 'translate(574,67) rotate(-90)').attr('text-anchor', 'middle')
        .attr('font-size', '5.5px').attr('fill', '#222').text('Gene Intersection');

    intersectionSets.forEach((sets, i) => {
        upsetSets.forEach(s => {
            g.append('circle').attr('cx', colX(i)).attr('cy', rowY(s)).attr('r', 1.7)
                .attr('fill', sets.includes(s) ? '#333' : '#d6d6d6');
        });
        if (sets.length > 1) {
            const ys = sets.map(s => rowY(s));
            g.append('line').attr('x1', colX(i)).attr('x2', colX(i))
                .attr('y1', d3.min(ys)).attr('y2', d3.max(ys)).attr('stroke', '#333').attr('stroke-width', 0.9);
        }
    });

    upsetSets.forEach(s => {
        g.append('rect').attr('x', setX(setSize(s))).attr('width', setX(0) - setX(setSize(s)))
            .attr('y', rowY(s) - 2.8).attr('height', 5.6).attr('fill', '#f77ff3');
        g.append('text').attr('x', 590).attr('y', rowY(s) + 2).attr('text-anchor', 'end')
            .attr('font-size', '5.5px').attr('fill', '#333').text(s);
    });
    const sa = g.append('g').attr('transform', 'translate(0,188)')
        .call(d3.axisBottom(setX).tickValues([0, 200, 400]).tickSize(2).tickSizeOuter(0));
    sa.select('.domain').remove();
    sa.selectAll('line').attr('stroke', axisColor).attr('stroke-width', 0.5);
    sa.selectAll('text').attr('fill', tickText).attr('font-size', '5.5px').attr('font-family', null);
    g.append('text').attr('x', 552).attr('y', 201).attr('text-anchor', 'middle')
        .attr('font-size', '5.5px').attr('fill', '#222').text('Number of AS genes');
}

// ---------- D ----------
function stackPanel(fx, fy, counts, relative, title, yTitle) {
    const fw = 122.7, fh = 140;
    const g = svg.append('g');
    const x = d3.scaleBand().domain(clusters).range([fx, fx + fw]).paddingInner(0.1).paddingOuter(0.15);
    const y = relative
        ? d3.scaleLinear().domain([-0.05, 1.05]).range([fy + fh, fy])
        : d3.scaleLinear().domain([-88, 1675]).range([fy + fh, fy]);
    const rows = clusters.map((c, i) => {
        const total = d3.sum(counts[i]);
        const row = { cluster: c, total: total };
        asTypes.forEach((t, j) => { row[t] = relative ? counts[i][j] / total : counts[i][j]; });
        return row;
    });
    const series = d3.stack().keys(stackOrder)(rows);
    series.forEach(s => {
        const color = asColors[asTypes.indexOf(s.key)];
        s.forEach(d => {
            g.append('rect').attr('x', x(d.data.cluster)).attr('width', x.bandwidth())
                .attr('y', y(d[1])).attr('height', Math.max(0, y(d[0]) - y(d[1]))).attr('fill', color);
        });
    });
    if (!relative) {
        rows.forEach(r => {
            g.append('text').attr('x', x(r.cluster) + x.bandwidth() / 2).attr('y', y(r.total) - 1.8)
                .attr('text-anchor', 'middle').attr('font-size', '7px').attr('fill', '#222').text(r.total);
        });
    }
    g.append('rect').attr('x', fx).attr('y', fy).attr('width', fw).attr('height', fh)
        .attr('fill', 'none').attr('stroke', '#111').attr('stroke-width', 1.2);
    const ticks = relative ? [0, 0.25, 0.5, 0.75, 1] : [0, 500, 1000, 1500];
    const fmt = relative ? d3.format('.2f') : d3.format('d');
    ticks.forEach(v => {
        g.append('line').attr('x1', fx - 1.5).attr('x2', fx).attr('y1', y(v)).attr('y2', y(v))
            .attr('stroke', '#555').attr('stroke-width', 0.4);
        g.append('text').attr('x', fx - 2.2).attr('y', y(v) + 1.2).attr('text-anchor', 'end')
            .attr('font-size', '3.5px').attr('fill', '#555').text(fmt(v));
    });
    clusters.forEach(c => {
        g.append('text').attr('x', x(c) + x.bandwidth() / 2).attr('y', fy + fh + 4.5).attr('text-anchor', 'middle')
            .attr('font-size', '3.5px').attr('fill', '#555').text(c);
    });
    g.append('text').attr('x', fx + fw / 2).attr('y', fy - 4.5).attr('text-anchor', 'middle')
        .attr('font-size', '9.5px').attr('fill', '#222').text(title);
    if (yTitle) {
        g.append('text').attr('transform', `translate(${fx - 11},${fy + fh / 2}) rotate(-90)`)
            .attr('text-anchor', 'middle').attr('font-size', '3.8px').attr('fill', '#333').text(yTitle);
    }
}

function drawPanelD() {
    panelLetter('D', 3, 253, 21);
    stackPanel(35, 251.7, upCounts, false, 'UP', 'numbers');
    stackPanel(173.7, 251.7, downCounts, false, 'DOWN', null);
    stackPanel(35, 412.7, upCounts, true, 'UP', 'Relative percent');
    stackPanel(173.7, 412.7, downCounts, true, 'DOWN', null);
    const ly = d3.scalePoint().domain(asTypes).range([353.3, 353.3 + 6 * 11.7]);
    asTypes.forEach((t, i) => {
        svg.append('rect').attr('x', 316.7).attr('y', ly(t)).attr('width', 10.7).attr('height', 10.2).attr('fill', asColors[i]);
        svg.append('text').attr('x', 331.5).attr('y', ly(t) + 7.6).attr('font-size', '6.8px').attr('fill', '#222').text(t);
    });
}

// ---------- E ----------
function drawPanelE() {
    panelLetter('E', 421, 253, 22);
    const g = svg.append('g');
    const x = d3.scaleBand().domain(clusters).range([497.7, 729]);
    const y = d3.scaleBand().domain(clusters).range([280, 506.7]);
    const color = d3.scaleLinear().domain([-1, 0, 1]).range(['#0000ff', '#ffffff', '#ff0000']);
    clusters.forEach((r, i) => {
        clusters.forEach((c, j) => {
            const v = overlapMatrix[i][j];
            g.append('rect').attr('x', x(c)).attr('y', y(r)).attr('width', x.bandwidth() + 0.3).attr('height', y.bandwidth() + 0.3)
                .attr('fill', i === j ? '#fdfbfd' : color(v));
            if (i !== j) {
                g.append('text').attr('x', x(c) + x.bandwidth() / 2).attr('y', y(r) + y.bandwidth() / 2 + 4.6)
                    .attr('text-anchor', 'middle').attr('font-size', '13px').attr('fill', '#111')
                    .text(d3.format('.3f')(Math.abs(v)));
            }
        });
        g.append('text').attr('x', 491).attr('y', y(r) + y.bandwidth() / 2 + 3.3).attr('text-anchor', 'end')
            .attr('font-size', '9.5px').attr('fill', '#222').text(r);
        g.append('text').attr('transform', `translate(${x(r) + x.bandwidth() / 2 + 1},278) rotate(-42)`)
            .attr('font-size', '9.5px').attr('fill', '#222').text(r);
    });

    const grad = defs.append('linearGradient').attr('id', 'overlapGrad');
    [['0%', '#0000ff'], ['50%', '#ffffff'], ['100%', '#ff0000']].forEach(s =>
        grad.append('stop').attr('offset', s[0]).attr('stop-color', s[1]));
    const cb = d3.scaleLinear().domain([-1, 1]).range([467.7, 743.3]);
    g.append('rect').attr('x', cb(-1)).attr('y', 518.3).attr('width', cb(1) - cb(-1)).attr('height', 7.7)
        .attr('fill', 'url(#overlapGrad)').attr('stroke', '#333').attr('stroke-width', 0.8);
    overlapTicks.forEach(v => {
        g.append('text').attr('x', cb(v)).attr('y', 538.8).attr('text-anchor', 'middle')
            .attr('font-size', '9.5px').attr('fill', '#111').text(d3.format('~g')(Math.abs(v)));
    });
    g.append('text').attr('x', 450).attr('y', 556).attr('font-size', '12px').attr('fill', '#111').text('down');
    g.append('text').attr('x', 611).attr('y', 556).attr('text-anchor', 'middle').attr('font-size', '12px').attr('fill', '#111').text('overlap');
    g.append('text').attr('x', 752).attr('y', 556).attr('text-anchor', 'end').attr('font-size', '12px').attr('fill', '#111').text('up');
}

// ---------- F-H ----------
const rowsLayout = [
    { top: 592, bottom: 732.7, legendY: 580.7 },
    { top: 773, bottom: 914.3, legendY: 762.3 },
    { top: 955, bottom: 1096, legendY: 943.3 },
    { top: 1140, bottom: 1281, legendY: 1127.3 }
];
const colLeft = [38.5, 222.5, 408.7, 591.5];
const yDomains = [
    [[-0.965, 4.47], [-1.44, 4.23], [-2.55, 4.39], [-0.61, 4.72]],
    [[-0.043, 1.054], [-0.046, 1.04], [-0.037, 0.995], [-0.04, 1.08]],
    [[-44.1, 31.5], [-40.3, 29.7], [-44.5, 31.8], [-45.8, 31.8]],
    [[-53.6, 37.1], [-57.7, 39.8], [-70.4, 43.7], [-55.1, 38.8]]
];
const yTicks = [
    [[0, 1, 2, 3, 4], [-1, 0, 1, 2, 3, 4], [-2, 0, 2, 4], [0, 1, 2, 3, 4]],
    [[0, 0.25, 0.5, 0.75, 1], [0, 0.25, 0.5, 0.75, 1], [0, 0.25, 0.5, 0.75], [0, 0.25, 0.5, 0.75, 1]],
    [[-40, -20, 0, 20], [-20, 0, 20], [-40, -20, 0, 20], [-40, -20, 0, 20]],
    [[-40, -20, 0, 20], [-40, -20, 0, 20], [-50, -25, 0, 25], [-40, -20, 0, 20]]
];
const pairs = [['no', 'down'], ['no', 'up'], ['up', 'down']];
const parsePts = s => s.trim().split(/\s+/).map(Number);

function legendRow(rightX, cy, title) {
    const lg = svg.append('g');
    const t = lg.append('text').attr('x', 0).attr('y', cy + 2).attr('font-size', '5.5px').attr('fill', '#333').text(title);
    let pos = t.node().getComputedTextLength() + 3.5;
    groups.forEach((gr, i) => {
        const c = d3.interpolateRgb(groupColors[i], '#fff')(0.2);
        const k = lg.append('g').attr('transform', `translate(${pos},${cy - 3})`);
        k.append('line').attr('x1', 3).attr('x2', 3).attr('y1', 0).attr('y2', 6).attr('stroke', c).attr('stroke-width', 0.6);
        k.append('rect').attr('x', 0.4).attr('y', 1.5).attr('width', 5.2).attr('height', 3).attr('fill', '#fff')
            .attr('stroke', c).attr('stroke-width', 0.6);
        k.append('line').attr('x1', 0.4).attr('x2', 5.6).attr('y1', 3).attr('y2', 3).attr('stroke', c).attr('stroke-width', 0.6);
        const lt = lg.append('text').attr('x', pos + 8).attr('y', cy + 2).attr('font-size', '5.5px').attr('fill', '#333').text(gr);
        pos += 8 + lt.node().getComputedTextLength() + 4;
    });
    lg.attr('transform', `translate(${rightX - pos + 4},0)`);
}

function boxPanel(o) {
    const g = svg.append('g');
    const L = o.L, R = o.L + 157;
    const x = d3.scalePoint().domain(groups).range([L + 29, L + 128]);
    const y = d3.scaleLinear().domain(o.domain).range([o.bottom, o.top]);
    const halfBox = x.step() * 0.375;

    // jittered points
    groups.forEach((gr, gi) => {
        parsePts(o.points[gi]).forEach((v, i) => {
            const dx = (((i * 0.618034) % 1) - 0.5) * 24;
            g.append('circle').attr('cx', x(gr) + dx).attr('cy', y(v)).attr('r', 1.2).attr('fill', groupColors[gi]);
        });
    });
    // boxes
    groups.forEach((gr, gi) => {
        const s = o.stats[gi];
        const c = d3.interpolateRgb(groupColors[gi], '#fff')(0.3);
        const cx = x(gr);
        g.append('line').attr('x1', cx).attr('x2', cx).attr('y1', y(s[4])).attr('y2', y(s[3])).attr('stroke', c).attr('stroke-width', 0.8);
        g.append('line').attr('x1', cx).attr('x2', cx).attr('y1', y(s[1])).attr('y2', y(s[0])).attr('stroke', c).attr('stroke-width', 0.8);
        g.append('rect').attr('x', cx - halfBox).attr('width', halfBox * 2).attr('y', y(s[3])).attr('height', y(s[1]) - y(s[3]))
            .attr('fill', 'none').attr('stroke', c).attr('stroke-width', 0.8);
        g.append('line').attr('x1', cx - halfBox).attr('x2', cx + halfBox).attr('y1', y(s[2])).attr('y2', y(s[2]))
            .attr('stroke', c).attr('stroke-width', 1.2);
    });
    // significance brackets
    pairs.forEach((p, pi) => {
        const yy = y(o.sigAt[pi]), x1 = x(p[0]), x2 = x(p[1]);
        g.append('path').attr('d', `M${x1},${yy + 3} L${x1},${yy} L${x2},${yy} L${x2},${yy + 3}`)
            .attr('fill', 'none').attr('stroke', '#444').attr('stroke-width', 0.6);
        g.append('text').attr('x', (x1 + x2) / 2).attr('y', yy - 1.8).attr('text-anchor', 'middle')
            .attr('font-size', '5px').attr('fill', '#333').text(o.sig[pi]);
    });
    // axes
    const fmt = o.fmt || d3.format('d');
    const ya = g.append('g').attr('transform', `translate(${L},0)`)
        .call(d3.axisLeft(y).tickValues(o.ticks).tickFormat(fmt).tickSize(2).tickSizeOuter(0));
    ya.select('.domain').attr('stroke', axisColor).attr('stroke-width', 0.7);
    g.append('line').attr('x1', L).attr('x2', R).attr('y1', o.bottom).attr('y2', o.bottom)
        .attr('stroke', axisColor).attr('stroke-width', 0.7);
    const xa = g.append('g').attr('transform', `translate(0,${o.bottom})`)
        .call(d3.axisBottom(x).tickSize(2).tickSizeOuter(0));
    xa.select('.domain').remove();
    [ya, xa].forEach(a => {
        a.selectAll('line').attr('stroke', axisColor).attr('stroke-width', 0.6);
        a.selectAll('text').attr('fill', tickText).attr('font-size', '6.2px').attr('font-family', null);
    });
    xa.selectAll('text').attr('font-size', '6.6px');
    const maxLen = d3.max(o.ticks, v => fmt(v).length);
    g.append('text').attr('transform', `translate(${L - 7.5 - maxLen * 3.2},${(o.top + o.bottom) / 2}) rotate(-90)`)
        .attr('text-anchor', 'middle').attr('font-size', '5.8px').attr('fill', '#222').text(o.yTitle);

    legendRow(L + 119, o.legendY, o.title);
}

function drawBoxRows() {
    panelLetter('F', 4, 584, 19);
    panelLetter('G', 4, 765, 19);
    panelLetter('H', 4, 950, 19);
    const gcFmt = d3.format('.2f');
    colLeft.forEach((L, c) => {
        boxPanel(Object.assign({ L: L, domain: yDomains[0][c], ticks: yTicks[0][c], title: lengthTitles[c],
            stats: lengthStats[c], points: lengthPoints[c], sig: lengthSig[c], sigAt: lengthSigAt[c],
            yTitle: 'log10(Exon/Intron length)' }, rowsLayout[0]));
        boxPanel(Object.assign({ L: L, domain: yDomains[1][c], ticks: yTicks[1][c], title: gcTitles[c], fmt: gcFmt,
            stats: gcStats[c], points: gcPoints[c], sig: gcSig[c], sigAt: gcSigAt[c],
            yTitle: 'GC content' }, rowsLayout[1]));
        [0, 1].forEach(r => {
            const k = r * 4 + c;
            boxPanel(Object.assign({ L: L, domain: yDomains[2 + r][c], ticks: yTicks[2 + r][c], title: maxentTitles[k],
                stats: maxentStats[k], points: maxentPoints[k], sig: maxentSig[k], sigAt: maxentSigAt[k],
                yTitle: 'log10(MAXENT score)' }, rowsLayout[2 + r]));
        });
    });
}

drawPanelA();
drawPanelB();
drawPanelC();
drawPanelD();
drawPanelE();
drawBoxRows();
</script>
</body>
</html>
